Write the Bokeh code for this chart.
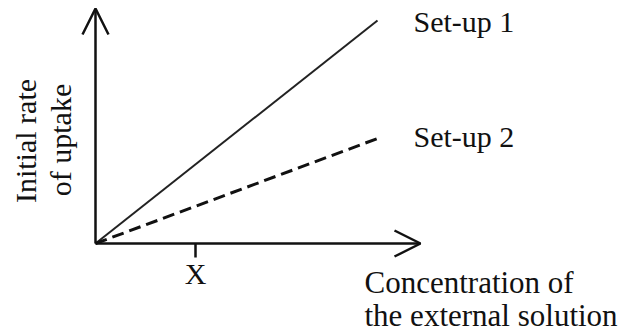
import math
from bokeh.plotting import figure
from bokeh.models import Range1d, Arrow, OpenHead
from bokeh.core.properties import value
from bokeh.embed import file_html
from bokeh.resources import INLINE

# ---- data ----
concentration = [0.0, 2.82]          # x values of both lines
setup1_rate = [0.0, 2.23]            # Set-up 1 (solid)
setup2_rate = [0.0, 1.05]            # Set-up 2 (dashed)
series_names = ["Set-up 1", "Set-up 2"]
x_tick_value = [1.0]
x_tick_label = ["X"]
x_axis_end = 3.25
y_axis_end = 2.35
x_title = ["Concentration of", "the external solution"]
y_title = ["Initial rate", "of uptake"]

FONT = value("Liberation Serif")
FS = "30px"
INK = "#111111"
SHIFT = 12  # correction of the rendered baseline position

W, H = 620, 336
PX = 100.0  # pixels per data unit (both axes)
ox, oy = 95, 93  # origin position in figure pixels (from left, from bottom)

p = figure(width=W, height=H, output_backend="svg", toolbar_location=None,
           x_range=Range1d(-ox / PX, (W - ox) / PX),
           y_range=Range1d(-oy / PX, (H - oy) / PX),
           min_border=0, min_border_left=0, min_border_right=0,
           min_border_top=0, min_border_bottom=0)
p.axis.visible = False
p.grid.visible = False
p.outline_line_color = None
p.background_fill_color = "white"
p.border_fill_color = "white"

# axes as arrows
p.add_layout(Arrow(end=OpenHead(size=26, line_width=2.5, line_color=INK),
                   x_start=0, y_start=0, x_end=x_axis_end, y_end=0,
                   line_width=2.5, line_color=INK))
p.add_layout(Arrow(end=OpenHead(size=26, line_width=2.5, line_color=INK),
                   x_start=0, y_start=0, x_end=0, y_end=y_axis_end,
                   line_width=2.5, line_color=INK))

# tick at X
tick_len = 14 / PX
p.segment(x0=x_tick_value, y0=[0] * len(x_tick_value), x1=x_tick_value,
          y1=[-tick_len] * len(x_tick_value), line_width=2.5, line_color=INK)
p.text(x=x_tick_value, y=[0] * len(x_tick_value), text=x_tick_label,
       text_font=FONT, text_font_size=FS, text_color=INK,
       text_align="center", text_baseline="alphabetic", y_offset=42 - SHIFT)

# series
p.line(concentration, setup1_rate, line_width=2, line_color="#222222")
p.line(concentration, setup2_rate, line_width=3, line_color=INK, line_dash="12 6")

# series labels next to the line ends
p.text(x=[concentration[-1]] * 2, y=[setup1_rate[-1], setup2_rate[-1]],
       text=series_names, text_font=FONT, text_font_size=FS, text_color=INK,
       text_align="left", text_baseline="alphabetic",
       x_offset=36, y_offset=[13 - SHIFT, 10 - SHIFT])

# x title (right, below axis)
p.text(x=[concentration[-1]] * 2, y=[0, 0], text=x_title,
       text_font=FONT, text_font_size="31px", text_color=INK,
       text_align="left", text_baseline="alphabetic",
       x_offset=-13, y_offset=[51 - SHIFT, 84 - SHIFT])

# y title (rotated, left of axis)
p.text(x=[0, 0], y=[y_axis_end / 2, y_axis_end / 2], text=y_title,
       text_font=FONT, text_font_size=FS, text_color=INK,
       angle=math.pi / 2, text_align="center", text_baseline="alphabetic",
       x_offset=[-58 - SHIFT, -23 - SHIFT], y_offset=[15, 14])

open("out.html", "w").write(file_html(p, INLINE))
